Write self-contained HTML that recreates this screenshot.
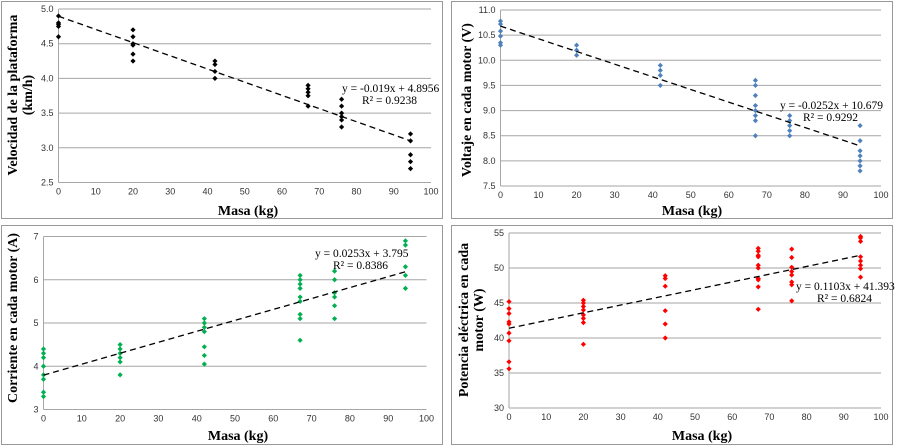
<!DOCTYPE html>
<html><head><meta charset="utf-8"><style>
body{margin:0;background:#fff;}
svg{display:block;font-family:"Liberation Serif",serif;}
.tick{font-family:"Liberation Sans",sans-serif;font-size:9px;fill:#333;}
.ttl{font-weight:bold;font-size:14px;fill:#000;}
.eq{font-size:11.5px;fill:#000;}
</style></head><body>
<svg id="c" width="898" height="448"></svg>
<script>
const xVals=[0,20,42,67,76,94.5];
const velData=[[4.9,4.8,4.78,4.75,4.6],[4.7,4.6,4.5,4.48,4.35,4.25],[4.25,4.2,4.1,4.0],[3.9,3.85,3.8,3.75,3.6],[3.7,3.6,3.5,3.45,3.4,3.3],[3.2,3.1,2.9,2.8,2.7]];
const voltData=[[10.78,10.72,10.58,10.48,10.35,10.3],[10.3,10.2,10.1],[9.9,9.8,9.7,9.5],[9.6,9.5,9.3,9.1,9.0,8.9,8.8,8.5],[8.9,8.8,8.7,8.6,8.5],[8.7,8.4,8.2,8.1,8.0,7.9,7.8]];
const currData=[[4.4,4.3,4.2,4.0,3.8,3.7,3.4,3.3],[4.5,4.4,4.3,4.2,4.1,3.8],[5.1,5.0,4.9,4.8,4.45,4.25,4.05],[6.1,6.0,5.9,5.8,5.6,5.5,5.2,5.1,4.6],[6.2,6.0,5.7,5.6,5.4,5.1],[6.9,6.8,6.3,6.1,5.8]];
const powData=[[45.2,44.2,43.5,42.3,42,40.7,39.6,36.6,35.6],[45.4,45,44.5,44,43.3,42.8,42.2,39.1],[48.9,48.5,47.4,43.9,42,40],[52.8,52.4,51.8,51.6,50.4,50,48.5,48.3,47.3,44.1],[52.7,51.5,50.1,49.5,49,48,47.6,45.3],[54.5,54.3,53.8,51.6,51,50.4,49.9,48.7]];
const xTicks=[0,10,20,30,40,50,60,70,80,90,100];
const velTicks=["2.5","3.0","3.5","4.0","4.5","5.0"];
const voltTicks=["7.5","8.0","8.5","9.0","9.5","10.0","10.5","11.0"];
const currTicks=["3","4","5","6","7"];
const powTicks=["30","35","40","45","50","55"];
const velFit=[-0.019,4.8956], voltFit=[-0.0252,10.679], currFit=[0.0253,3.795], powFit=[0.1103,41.393];

const NS="http://www.w3.org/2000/svg";
const svg=document.getElementById('c');
function mk(t,a,p){const e=document.createElementNS(NS,t);for(const k in a)e.setAttribute(k,a[k]);(p||svg).appendChild(e);return e;}

function panel(o){
  const g=mk('g',{});
  
  
  const fr=mk('rect',{x:o.fx,y:o.fy,width:o.fw,height:o.fh,fill:'#fff',stroke:'#999','stroke-width':1},g);
  
  
  const ymin=+o.ticks[0],ymax=+o.ticks[o.ticks.length-1];
  const X=v=>o.L+(v/100)*(o.R-o.L);
  const Y=v=>o.B-(v-ymin)/(ymax-ymin)*(o.B-o.T);
  o.ticks.forEach((t,i)=>{
    const y=Y(+t);
    if(i>0){const l=mk('line',{x1:o.L,x2:o.R,y1:y,y2:y,stroke:'#a6a6a6','stroke-width':1},g);
      }
    const tx=mk('text',{x:o.L-5,y:y+3,'text-anchor':'end',class:'tick'},g);tx.textContent=t;
    
  });
  const ax=mk('line',{x1:o.L,x2:o.L,y1:o.T,y2:o.B,stroke:'#a6a6a6'},g);
  
  const ax2=mk('line',{x1:o.L,x2:o.R,y1:o.B,y2:o.B,stroke:'#a6a6a6'},g);
  
  xTicks.forEach(t=>{
    const tx=mk('text',{x:X(t),y:o.B+12,'text-anchor':'middle',class:'tick'},g);tx.textContent=t;
    
  });
  o.data.forEach((col,i)=>col.forEach(v=>{
    const cx=X(xVals[i]),cy=Y(v),s=2.6;
    const p=mk('path',{d:`M${cx} ${cy-s}L${cx+s} ${cy}L${cx} ${cy+s}L${cx-s} ${cy}Z`,fill:o.color},g);
    
  }));
  const x0=0,x1=94.5;
  const tl=mk('line',{x1:X(x0),y1:Y(o.fit[1]+o.fit[0]*x0),x2:X(x1),y2:Y(o.fit[1]+o.fit[0]*x1),stroke:'#000','stroke-width':1.3,'stroke-dasharray':'6,4'},g);
  
  const e1=mk('text',{x:o.ex,y:o.ey,class:'eq'},g);e1.textContent=o.eq;
  
  const e2=mk('text',{x:o.rx,y:o.ey+12,class:'eq'},g);e2.textContent=o.r2;
  
  const xt=mk('text',{x:o.xtx,y:o.xty,'text-anchor':'middle',class:'ttl'},g);xt.textContent='Masa (kg)';
  
  o.ytitle.forEach((s,i)=>{
    const cx=o.ytx+i*15,cy=o.yty;
    const yt=mk('text',{x:cx,y:cy,'text-anchor':'middle',class:'ttl',transform:`rotate(-90 ${cx} ${cy})`},g);yt.textContent=s;
    
  });
}
panel({name:'velocity-panel',fx:1.5,fy:1.5,fw:441,fh:217,L:58.5,R:431,T:9,B:182.5,ticks:velTicks,data:velData,color:'#000',fit:velFit,
  eq:'y = -0.019x + 4.8956',r2:'R² = 0.9238',ex:342,ey:92,rx:362,xtx:248,xty:215,ytitle:['Velocidad de la plataforma','(km/h)'],ytx:17,yty:95});
panel({name:'voltage-panel',fx:451.5,fy:1.5,fw:441,fh:217,L:500.5,R:881,T:10,B:186,ticks:voltTicks,data:voltData,color:'#4f81bd',fit:voltFit,
  eq:'y = -0.0252x + 10.679',r2:'R² = 0.9292',ex:780,ey:109,rx:803,xtx:692,xty:215,ytitle:['Voltaje en cada motor (V)'],ytx:471,yty:100});
panel({name:'current-panel',fx:1.5,fy:225.5,fw:441,fh:219,L:43.5,R:426.5,T:236.5,B:409.5,ticks:currTicks,data:currData,color:'#00b050',fit:currFit,
  eq:'y = 0.0253x + 3.795',r2:'R² = 0.8386',ex:315,ey:257,rx:333,xtx:238,xty:440,ytitle:['Corriente en cada motor (A)'],ytx:17,yty:318});
panel({name:'power-panel',fx:451.5,fy:225.5,fw:441,fh:219,L:509,R:881,T:233,B:408,ticks:powTicks,data:powData,color:'#ff0000',fit:powFit,
  eq:'y = 0.1103x + 41.393',r2:'R² = 0.6824',ex:796,ey:290,rx:817,xtx:702,xty:440,ytitle:['Potencia eléctrica en cada','motor (W)'],ytx:468,yty:320});
</script>
</body></html>
